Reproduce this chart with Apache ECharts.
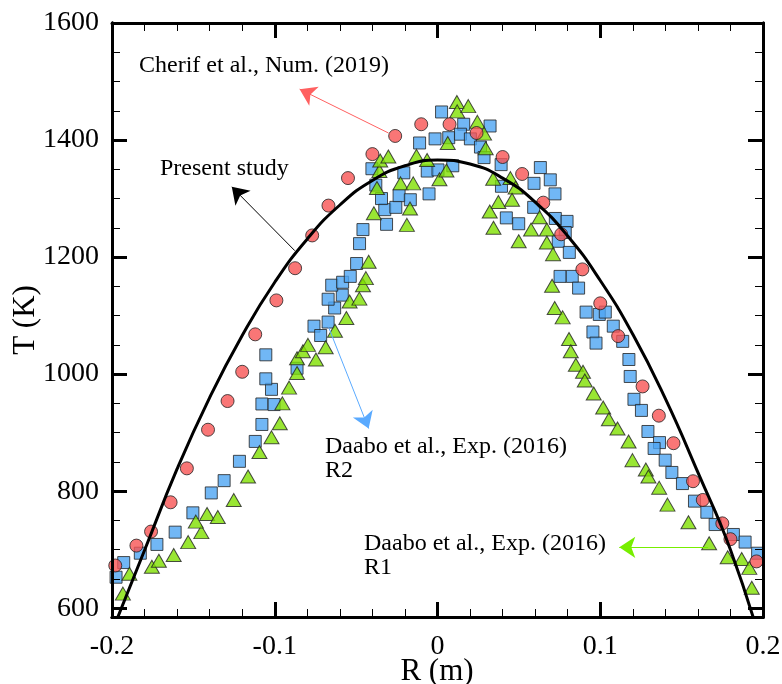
<!DOCTYPE html>
<html lang="en">
<head>
    <meta charset="UTF-8">
    <title>T vs R</title>
    <script src="https://cdn.jsdelivr.net/npm/echarts@6/dist/echarts.min.js"></script>
    <style>
        body { margin: 0; background: #fff; }
        #wrap { position: relative; width: 782px; height: 684px; }
        #chart, #ticks { position: absolute; left: 0; top: 0; width: 782px; height: 684px; }
        #ticks { pointer-events: none; }
    </style>
</head>
<body>
<div id="wrap">
    <div id="chart"></div>
    <div id="ticks"></div>
</div>
<script>
    // Present study (solid curve)
    var presentR = [-0.2, -0.18, -0.16, -0.14, -0.12, -0.1, -0.08, -0.06, -0.04, -0.02, 0,
                    0.02, 0.04, 0.06, 0.08, 0.1, 0.12, 0.14, 0.16, 0.18, 0.2];
    var presentT = [560, 699, 838, 960, 1066, 1157, 1231, 1289, 1331, 1356, 1366,
                    1359, 1335, 1294, 1236, 1160, 1068, 958, 832, 700, 528];

    // Cherif et al., Num. (2019) - circles
    var cherifR = [-0.198, -0.185, -0.176, -0.164, -0.154, -0.141, -0.129, -0.120, -0.112, -0.099,
                   -0.0875, -0.077, -0.067, -0.055, -0.040, -0.026, -0.010, 0.0074, 0.024, 0.040,
                   0.052, 0.065, 0.076, 0.089, 0.100, 0.111, 0.126, 0.136, 0.145, 0.157,
                   0.163, 0.175, 0.180, 0.196];
    var cherifT = [673, 707, 731, 781, 839, 905, 954, 1004, 1068, 1126,
                   1181, 1237, 1288, 1335, 1376, 1407, 1427, 1427, 1412, 1371,
                   1342, 1293, 1239, 1179, 1121, 1065, 979, 929, 882, 817,
                   785, 745, 718, 680];

    // Daabo et al., Exp. (2016) R2 - squares
    var r2R = [-0.1975, -0.1928, -0.1826, -0.1724, -0.1612, -0.1503, -0.139, -0.1311, -0.1217, -0.112,
               -0.1079, -0.1079, -0.1004, -0.102, -0.1055, -0.1055, -0.0863, -0.0759, -0.0718, -0.0672,
               -0.0632, -0.0672, -0.0585, -0.065, -0.0583, -0.0536, -0.0497, -0.0479, -0.0458, -0.0313,
               -0.0324, -0.0344, -0.0379, -0.0403, -0.0256, -0.0236, -0.0167, -0.0207, -0.011, -0.0052,
               -0.0063, 0.0003, -0.0015, 0.0025, 0.0094, 0.0069, 0.0161, 0.0141, 0.0202, 0.0323,
               0.0264, 0.0286, 0.0391, 0.0393, 0.0632, 0.0693, 0.0593, 0.0722, 0.0591, 0.0423,
               0.0499, 0.0724, 0.0796, 0.0785, 0.0742, 0.081, 0.0753, 0.0828, 0.0867, 0.0913,
               0.0994, 0.1031, 0.0955, 0.0974, 0.108, 0.1138, 0.1176, 0.1184, 0.1207, 0.1253,
               0.1293, 0.1364, 0.1331, 0.1399, 0.144, 0.1505, 0.1579, 0.1655, 0.1706, 0.1818,
               0.189, 0.1967, 0.2002];
    var r2T = [653, 678, 694, 709, 730, 763, 797, 818, 851, 885,
               914, 949, 948, 974, 992, 1033, 1010, 1082, 1066, 1089,
               1113, 1128, 1135, 1152, 1157, 1167, 1189, 1223, 1247, 1256,
               1281, 1300, 1323, 1351, 1285, 1305, 1298, 1344, 1395, 1308,
               1347, 1349, 1402, 1448, 1356, 1404, 1427, 1410, 1402, 1424,
               1388, 1370, 1358, 1321, 1353, 1332, 1326, 1308, 1285, 1267,
               1257, 1266, 1261, 1242, 1227, 1208, 1167, 1167, 1147, 1106,
               1102, 1106, 1072, 1053, 1082, 1056, 1025, 996, 957, 938,
               902, 883, 873, 853, 832, 813, 783, 764, 743, 726,
               713, 694, 678];

    // Daabo et al., Exp. (2016) R1 - triangles
    var r1R = [-0.1933, -0.1893, -0.1755, -0.1712, -0.1621, -0.1532, -0.1451, -0.1485, -0.1416, -0.135,
               -0.1252, -0.1164, -0.1094, -0.102, -0.0969, -0.0953, -0.0912, -0.0863, -0.0863, -0.0827,
               -0.0796, -0.0747, -0.0687, -0.063, -0.056, -0.054, -0.048, -0.0458, -0.044, -0.0423,
               -0.0391, -0.0372, -0.0357, -0.0352, -0.0302, -0.0227, -0.0149, -0.0129, -0.0064, -0.0169,
               -0.0188, 0.0012, 0.0055, 0.0063, 0.0119, 0.0121, 0.0189, 0.0245, 0.0286, 0.0296,
               0.0342, 0.0448, 0.048, 0.0374, 0.0458, 0.0321, 0.0344, 0.0499, 0.0575, 0.0627,
               0.0672, 0.0672, 0.071, 0.0704, 0.072, 0.0769, 0.0808, 0.0819, 0.085, 0.0894,
               0.0905, 0.096, 0.1018, 0.1053, 0.1106, 0.1174, 0.1198, 0.128, 0.1296, 0.1362,
               0.1413, 0.1542, 0.1669, 0.1783, 0.1869, 0.1916, 0.1931];
    var r1T = [625, 659, 671, 681, 691, 713, 730, 748, 761, 756,
               785, 825, 867, 892, 916, 950, 977, 1002, 1027, 1039,
               1050, 1025, 1046, 1074, 1096, 1124, 1129, 1152, 1164, 1192,
               1275, 1318, 1347, 1365, 1372, 1326, 1326, 1373, 1366, 1283,
               1255, 1333, 1348, 1395, 1465, 1449, 1458, 1431, 1411, 1386,
               1334, 1335, 1319, 1294, 1298, 1278, 1250, 1227, 1247, 1268,
               1247, 1225, 1205, 1151, 1113, 1097, 1060, 1039, 1016, 1004,
               989, 967, 943, 923, 907, 885, 853, 837, 825, 806,
               777, 747, 711, 687, 684, 669, 635];

    var yMajor = [600, 800, 1000, 1200, 1400, 1600];
    var yMinor = [650, 700, 750, 850, 900, 950, 1050, 1100, 1150, 1250, 1300, 1350, 1450, 1500, 1550];

    function pairs(xs, ys) {
        return xs.map(function (x, i) { return [x, ys[i]]; });
    }

    var serif = 'Liberation Serif';
    var black = '#000';
    var gridBox = {left: 112, top: 23, right: 19, bottom: 67};

    var arrow = function (x1, y1, x2, y2, color) {
        return [{coord: [x1, y1], lineStyle: {color: color, width: 1, type: 'solid'}},
                {coord: [x2, y2]}];
    };

    var font24 = '24px "Liberation Serif"';
    var font31 = '31px "Liberation Serif"';

    // main chart: data, axis lines and labels
    var chart = echarts.init(document.getElementById('chart'));
    chart.setOption({
        animation: false,
        grid: Object.assign({outerBoundsMode: 'none'}, gridBox),
        xAxis: [{
            type: 'value', position: 'bottom', min: -0.2, max: 0.2, interval: 0.1,
            axisLine: {show: true, onZero: false, lineStyle: {color: black, width: 3}},
            axisTick: {show: false},
            axisLabel: {fontFamily: serif, fontSize: 28, color: black, margin: 16},
            splitLine: {show: false}
        }],
        yAxis: [{
            type: 'value', position: 'left', min: 585, max: 1600,
            axisLine: {show: true, onZero: false, lineStyle: {color: black, width: 3}},
            axisTick: {show: false},
            axisLabel: {customValues: yMajor, fontFamily: serif, fontSize: 28, color: black, margin: 13,
                formatter: function (v) { return String(v); }},
            splitLine: {show: false}
        }],
        series: [
            {
                name: 'Daabo et al., Exp. (2016) R2', type: 'scatter', symbol: 'rect', symbolSize: 12,
                data: pairs(r2R, r2T),
                itemStyle: {color: '#4ea5f2', borderColor: '#222', borderWidth: 1}
            },
            {
                name: 'Daabo et al., Exp. (2016) R1', type: 'scatter', symbol: 'triangle', symbolSize: [15, 13],
                data: pairs(r1R, r1T),
                itemStyle: {color: '#80e000', borderColor: '#222', borderWidth: 1}
            },
            {
                name: 'Cherif et al., Num. (2019)', type: 'scatter', symbol: 'circle', symbolSize: 13,
                data: pairs(cherifR, cherifT),
                itemStyle: {color: '#f75454', borderColor: '#222', borderWidth: 1}
            },
            {
                name: 'Present study', type: 'line', smooth: true, showSymbol: false,
                data: pairs(presentR, presentT),
                lineStyle: {color: black, width: 3},
                markLine: {
                    silent: true, symbol: ['none', 'arrow'], symbolSize: 16,
                    label: {show: false},
                    data: [
                        arrow(-0.0301, 1412, -0.0847, 1487, '#ff6060'),
                        arrow(-0.0877, 1211, -0.1264, 1320, '#000'),
                        arrow(-0.0669, 1080, -0.0423, 907, '#5aaaff'),
                        arrow(0.1663, 704, 0.1117, 704, '#77ee00')
                    ]
                }
            }
        ],
        graphic: [
            {type: 'text', x: 437, y: 672,
             style: {text: 'R (m)', font: font31, fill: black, align: 'center', verticalAlign: 'middle'}},
            {type: 'text', x: 26, y: 320, rotation: Math.PI / 2,
             style: {text: 'T (K)', font: font31, fill: black, align: 'center', verticalAlign: 'middle'}},
            {type: 'text', left: 139, top: 54,
             style: {text: 'Cherif et al., Num. (2019)', font: font24, fill: black}},
            {type: 'text', left: 160, top: 157,
             style: {text: 'Present study', font: font24, fill: black}},
            {type: 'text', left: 325, top: 435,
             style: {text: 'Daabo et al., Exp. (2016)\nR2', font: font24, lineHeight: 24, fill: black}},
            {type: 'text', left: 364, top: 532,
             style: {text: 'Daabo et al., Exp. (2016)\nR1', font: font24, lineHeight: 24, fill: black}}
        ]
    });

    // overlay chart: the framed box with inward ticks on all four sides
    function tickX(pos) {
        return {type: 'value', position: pos, min: -0.2, max: 0.2, interval: 0.1,
            axisLine: {show: true, onZero: false, lineStyle: {color: black, width: 3}},
            axisTick: {show: true, inside: true, length: 15, lineStyle: {color: black, width: 3}},
            minorTick: {show: true, splitNumber: 5, length: 8, lineStyle: {color: black, width: 1}},
            axisLabel: {show: false}, splitLine: {show: false}};
    }
    function tickY(pos, major) {
        return {type: 'value', position: pos, min: 585, max: 1600,
            axisLine: {show: true, onZero: false, lineStyle: {color: black, width: 3}},
            axisTick: {show: true, inside: true, length: major ? 15 : 8,
                customValues: major ? yMajor : yMinor,
                lineStyle: {color: black, width: major ? 3 : 1}},
            axisLabel: {show: false}, splitLine: {show: false}};
    }
    var ticks = echarts.init(document.getElementById('ticks'));
    ticks.setOption({
        animation: false,
        grid: Object.assign({}, gridBox),
        xAxis: [tickX('bottom'), tickX('top')],
        yAxis: [tickY('left', true), tickY('left', false), tickY('right', true), tickY('right', false)],
        series: [{type: 'line', data: [], silent: true}]
    });
</script>
</body>
</html>
